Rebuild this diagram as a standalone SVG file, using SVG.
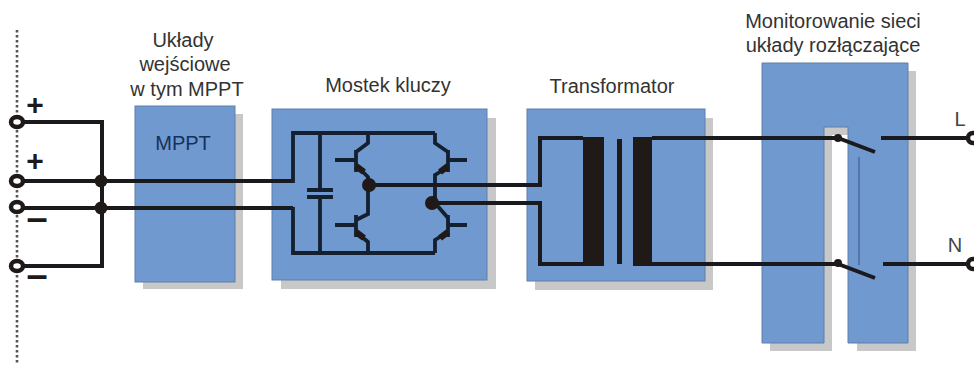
<svg xmlns="http://www.w3.org/2000/svg" width="974" height="365" viewBox="0 0 974 365">
<style>
text{font-family:"Liberation Sans",Arial,sans-serif;font-size:20px;fill:#333;text-anchor:middle}
.sign{font-weight:bold;fill:#1f1a17}
.box{fill:#7099d0;stroke:#5f7fa8;stroke-width:1}
.shadow{fill:#c8c8c8}
.w{fill:none;stroke:#1a1a1e;stroke-width:4}
.t{fill:none;stroke:#14202f;stroke-width:3.8}
.a{fill:none;stroke:#1f1a17;stroke-width:6.5}
.dot{fill:#1f1a17}
.term{fill:#fff;stroke:#1f1a17;stroke-width:4.5}
.core{fill:#1f1a17}
</style>
<g id="input-edge"><line x1="17" y1="30" x2="17" y2="365" stroke="#555" stroke-width="2.6" stroke-dasharray="2.5 2.5"/></g>
<g id="mppt">
<rect class="shadow" x="143" y="114" width="100" height="175"/>
<rect class="box" x="135" y="106" width="100" height="176"/>
<text x="183" y="150" style="fill:#16305a">MPPT</text>
<text x="183" y="47">Układy</text><text x="185" y="71">wejściowe</text><text x="187" y="96">w tym MPPT</text>
</g>
<g id="mostek">
<rect class="shadow" x="281" y="118" width="215" height="171"/>
<rect class="box" x="272" y="109" width="215" height="171"/>
<text x="388" y="92">Mostek kluczy</text>
</g>
<g id="transformator">
<rect class="shadow" x="535" y="118" width="178" height="172"/>
<rect class="box" x="527" y="109" width="178" height="172"/>
<text x="612" y="93">Transformator</text>
</g>
<g id="monitorowanie">
<path class="shadow" d="M770 71H916V351H857V135H832V351H770Z"/>
<path class="box" d="M762 63H908V343H848V127H824V343H762Z"/>
<line x1="859" y1="157" x2="859" y2="265" stroke="#3f5f95" stroke-width="1.2"/>
<text x="833" y="28">Monitorowanie sieci</text><text x="833" y="52">układy rozłączające</text>
</g>
<g id="connectors">
<path class="w" d="M24 122H102V266H24M24 181H293M24 208H293"/>
<path class="t" d="M293 183V133H435M293 207V253H435M320 133V190M320 197V253"/>
<path class="t" d="M307 190H333M307 197H333"/>
<path class="t" d="M368 133V143L356 152M356 150V172M356 165L368 177V214L356 220M356 215V237M356 232L368 242V253M335 160H356M335 225H356"/>
<path class="t" d="M435 133V143L448 152M448 150V172M448 167L435 175V203L448 218M448 215V237M448 232L435 240V253M467 160H448M467 225H448"/>
<path class="a" d="M356 166L364 172M356 232L364 238M448 166L440 172M448 232L440 238"/>
<path class="w" d="M369 185H540V138H583M432 203H540V264H583"/>
<path class="w" d="M652 138H838L875 152M881 138H966M652 264H838L875 278M883 264H966"/>
<rect class="core" x="583" y="137" width="21" height="129"/>
<rect class="core" x="633" y="137" width="19" height="129"/>
<rect class="core" x="617" y="139" width="5" height="125"/>
<circle class="dot" cx="101" cy="181" r="6.5"/><circle class="dot" cx="101" cy="208" r="6.5"/>
<circle class="dot" cx="369" cy="185" r="7"/><circle class="dot" cx="432" cy="203" r="7"/>
<circle class="dot" cx="838" cy="138" r="4"/><circle class="dot" cx="838" cy="263" r="4"/>
</g>
<g id="terminals">
<ellipse class="term" cx="17" cy="122" rx="6" ry="5"/><ellipse class="term" cx="17" cy="181" rx="6" ry="5"/><ellipse class="term" cx="17" cy="207" rx="6" ry="5"/><ellipse class="term" cx="17" cy="266" rx="6" ry="5"/>
<circle class="term" cx="973" cy="138" r="5"/><circle class="term" cx="973" cy="264" r="5"/>
<text class="sign" x="35" y="115" style="font-size:30px">+</text>
<text class="sign" x="35" y="171" style="font-size:30px">+</text>
<text class="sign" x="37" y="231" style="font-size:38px">–</text>
<text class="sign" x="37" y="288" style="font-size:38px">–</text>
<text x="960" y="126" style="fill:#444">L</text>
<text x="955" y="252" style="fill:#444">N</text>
</g>
</svg>
